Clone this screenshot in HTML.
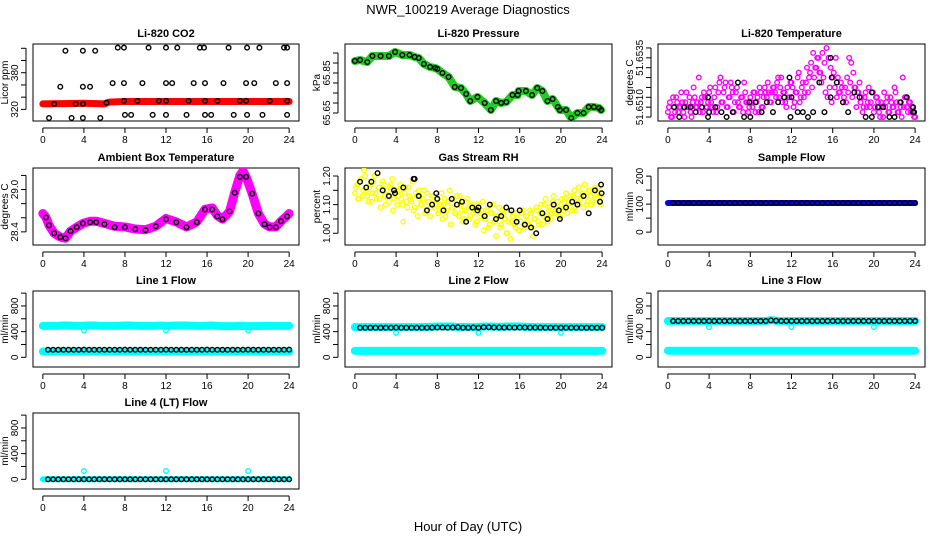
<!DOCTYPE html>
<html><head><meta charset="utf-8"><style>
html,body{margin:0;padding:0;background:#fff}
svg{display:block;font-family:"Liberation Sans",Arial,sans-serif}
</style></head><body>
<svg id="fig" width="936" height="540" viewBox="0 0 936 540">
<text x="468" y="14" text-anchor="middle" font-size="13">NWR_100219  Average Diagnostics</text>
<text x="468" y="531" text-anchor="middle" font-size="13">Hour of Day (UTC)</text>
</svg>
<script>
// ---------- data ----------
const xTicks = [0,4,8,12,16,20,24];
const halfHours = [0.5,1,1.5,2,2.5,3,3.5,4,4.5,5,5.5,6,6.5,7,7.5,8,8.5,9,9.5,10,10.5,11,11.5,12,12.5,13,13.5,14,14.5,15,15.5,16,16.5,17,17.5,18,18.5,19,19.5,20,20.5,21,21.5,22,22.5,23,23.5,24];

// CO2
const co2Hours = [2.2,3.9,5.1,7.3,7.9,10.3,12.0,13.1,15.3,15.7,18.1,19.9,21.1,23.5,23.8, 1.7,3.9,4.6,6.8,7.9,9.7,12.0,12.6,14.7,15.8,17.6,19.8,20.6,22.7,23.8, 1.1,3.2,3.9,6.2,7.9,9.2,11.3,12.0,14.2,15.8,17.0,19.2,19.8,22.1,23.8, 0.6,2.8,3.9,5.6,8.0,8.6,10.7,12.0,14.0,15.8,16.4,18.6,19.9,21.4,23.8];
const co2Values = [416,416,416,421,421,421,421,421,421,421,421,421,421,421,421, 357,357,357,363,363,363,363,363,363,363,363,363,363,363,363, 329,329,329,331,334,334,334,334,334,334,334,334,334,334,334, 306,306,306,306,311,311,311,311,311,311,311,311,311,311,311];
const co2RedHours = [0,2,4,6,6.5,8,10,12,14,16,18,20,22,24];
const co2RedValues = [329,329.5,330,329,332,333,333,333,333,333,333,333,333,333];

// Pressure
const presHours = [0,0.5,1.2,1.7,2.5,3.3,3.9,4.6,5.3,5.8,6.2,6.7,7.3,7.8,8.0,8.5,9.1,9.7,10.3,10.8,11.2,11.9,12.6,13.2,13.7,14.2,14.7,15.3,15.8,15.9,16.6,17.2,17.7,18.2,18.7,19.2,19.7,19.9,20.5,21.0,21.6,22.2,22.7,23.2,23.7,23.9];
const presValues = [65.91,65.915,65.905,65.935,65.935,65.935,65.955,65.94,65.94,65.93,65.925,65.895,65.88,65.875,65.87,65.85,65.83,65.78,65.775,65.745,65.71,65.73,65.70,65.665,65.71,65.70,65.705,65.74,65.74,65.76,65.76,65.74,65.775,65.76,65.71,65.72,65.68,65.665,65.665,65.625,65.65,65.65,65.68,65.68,65.675,65.665];

// Li-820 temperature (levels)
const tempMagA = [1,3,0,2,4,1,2,3,0,5,2,1,3,4,2,8,3,1,4,2,5, 3,1,6,2,7,3,5,7,2,4,6,1,5,3,2,4,7,3,1, 4,2,5,3,1,5,2,6,4,5,3,6,5,7,4,8,5,3,6, 4,7,2,5,8,3,6,4,7,5,9,6,8,10,12,9,13,11,14, 12,10,8,6,4,5,7,3,6,8,12,11,9,6,5,7,4,2,5,3, 2,5,1,4,3,0,2,5,3,1,4,2,6,3,1,2,8,4,2,3,1,2,0];
const tempMagB = [2,0,4,1,3,2,5,1,3,2,4,0,6,2,3,1,4,5,2,3, 6,2,4,1,5,8,3,6,2,4,7,5,3,6,2,4,1,5,3,2, 3,5,1,4,6,2,4,5,7,3,5,6,4,8,6,3,5,2,4,7, 6,3,5,9,4,7,5,10,8,11,13,10,12,9,7,8,5,4,6,3, 9,12,8,5,6,4,3,5,7,4,6,2,5,3,1,4,2,6,3,5, 2,4,1,3,0,2,4,1,3,2,5,1,3,0,2,4,1,3,2,0];
const tempBlackHours = [0.6,1.1,1.6,2.2,2.7,3.3,3.9,3.9,4.0,4.6,5.2,5.7,6.3,6.8,7.4,7.9,8.0,8.5,9.1,9.6,10.2,10.7,11.3,11.8,11.9,12.0,12.6,13.1,13.6,14.1,14.7,15.2,15.8,15.8,15.9,16.4,17.0,17.5,18.1,18.6,19.2,19.8,19.8,20.4,20.9,21.5,22.0,22.6,23.2,23.8,23.8,23.9];
const tempBlackLevels = [2,0,2,2,1,2,0,4,1,2,1,0,1,7,0,3,0,3,1,3,1,3,4,8,0,4,1,1,0,1,7,1,4,12,8,7,3,1,5,4,0,0,5,2,2,0,0,3,4,1,2,1];

// Ambient box temperature
const ambHours = [0.3,0.6,1.1,1.7,2.2,2.7,3.3,3.9,4.6,5.2,6.0,7.0,8.0,9.0,10.0,11.0,12.0,13.0,14.0,15.0,15.8,16.5,17.0,17.5,18.2,18.7,19.2,19.8,20.4,21.0,21.6,22.1,22.7,23.2,23.8];
const ambValues = [28.606,28.494,28.38,28.326,28.31,28.41,28.466,28.52,28.536,28.536,28.508,28.466,28.466,28.438,28.424,28.48,28.578,28.536,28.466,28.536,28.717,28.717,28.62,28.578,28.69,28.955,29.179,29.179,28.941,28.661,28.508,28.466,28.466,28.55,28.62];
const ambLineHours = [0,0.3,0.6,1.1,1.7,2.2,2.7,3.3,3.9,4.6,5.2,6.0,7.0,8.0,9.0,10.0,11.0,12.0,13.0,14.0,15.0,15.8,16.5,17.0,17.5,18.2,18.7,19.2,19.5,19.8,20.4,21.0,21.6,22.1,22.7,23.2,23.8,24];
const ambLineValues = [28.66,28.606,28.494,28.38,28.326,28.31,28.41,28.466,28.52,28.55,28.55,28.52,28.48,28.47,28.44,28.43,28.48,28.59,28.54,28.47,28.54,28.72,28.74,28.63,28.58,28.69,28.96,29.2,29.26,29.18,28.94,28.66,28.51,28.47,28.47,28.55,28.63,28.66];

// Gas stream RH
const rhYellowA = [1.14,1.17,1.12,1.19,1.15,1.20,1.13,1.16,1.11,1.18,1.14,1.21,1.12,1.15,1.17,1.10,1.13,1.16,1.19,1.12,1.15, 1.13,1.17,1.10,1.14,1.11,1.16,1.12,1.18,1.09,1.13,1.15,1.10,1.12,1.07,1.14,1.11,1.09,1.13,1.10, 1.12,1.08,1.14,1.10,1.06,1.11,1.15,1.09,1.12,1.07,1.10,1.13,1.08,1.05,1.11,1.09,1.06,1.10,1.08, 1.04,1.09,1.07,1.11,1.05,1.08,1.02,1.07,1.10,1.04,1.06,1.09,1.03,1.07,1.05,1.00,1.08,1.04,1.06,1.02, 1.05,1.01,1.07,1.03,1.06,1.04,1.08,1.02,1.05,1.09,1.04,1.07,1.03,1.10,1.06,1.08,1.05,1.11,1.07,1.09, 1.06,1.10,1.08,1.12,1.07,1.11,1.09,1.13,1.08,1.12,1.10,1.14,1.09,1.13,1.11,1.15,1.10,1.14,1.12,1.16,1.13];
const rhYellowB = [1.16,1.12,1.18,1.13,1.22,1.15,1.11,1.17,1.14,1.20,1.12,1.16,1.09,1.18,1.13,1.15,1.11,1.17,1.08,1.14, 1.10,1.15,1.12,1.04,1.16,1.09,1.13,1.11,1.08,1.14,1.06,1.12,1.10,1.15,1.08,1.11,1.06,1.13,1.09,1.12, 1.07,1.10,1.05,1.12,1.08,1.11,1.03,1.09,1.07,1.13,1.06,1.10,1.04,1.08,1.12,1.05,1.09,1.07,1.03,1.10, 1.06,1.08,1.01,1.05,1.09,1.03,1.07,1.04,0.99,1.06,1.02,1.08,1.05,1.00,1.04,0.98,1.06,1.03,1.07,1.01, 1.04,1.08,1.02,1.06,1.03,1.07,0.99,1.05,1.08,1.03,1.10,1.06,1.12,1.04,1.09,1.07,1.13,1.08,1.11,1.06, 1.12,1.09,1.14,1.10,1.13,1.08,1.15,1.11,1.16,1.12,1.14,1.17,1.10,1.15,1.13,1.11,1.16,1.12,1.14,1.10];
const rhBlackHours = [0.5,1.1,1.6,2.2,2.7,3.3,3.8,3.9,4.7,5.7,5.8,6.2,7.0,7.5,7.9,8.0,8.6,9.4,9.9,10.4,10.8,11.4,11.9,12.0,12.6,13.1,13.7,14.2,14.7,15.2,15.7,16.0,16.5,17.1,17.6,18.2,18.7,19.3,19.8,19.9,20.5,21.1,21.6,22.2,22.7,23.3,23.8,23.9,23.95];
const rhBlackValues = [1.18,1.16,1.18,1.21,1.15,1.13,1.15,1.14,1.16,1.19,1.19,1.13,1.08,1.10,1.14,1.12,1.08,1.12,1.10,1.11,1.04,1.09,1.08,1.09,1.06,1.10,1.05,1.06,1.09,1.08,1.04,1.08,1.03,1.02,1.00,1.07,1.05,1.10,1.08,1.05,1.09,1.11,1.10,1.13,1.07,1.15,1.11,1.17,1.14];

// Sample flow
const sampleBlue = [104,104,104,104,104,104,104,104,104,104,104,104,104,104,104,104,104,104,104,104,104,104,104,104,104,104,104,104,104,104,104,104,104,104,104,104,104,104,104,104,104,104,104,104,104,104,104,104];
const sampleBlack = [104,104,104,104,104,104,104,104,104,104,104,104,104,104,104,104,104,104,104,104,104,104,104,104,104,104,104,104,104,104,104,104,104,104,104,104,104,104,104,104,104,104,104,104,104,104,104,104];

// Line flows
const outlierHours = [4,12,20];
const line1Black = [118,118,118,118,118,118,118,120,118,118,118,118,118,118,118,120,118,118,118,118,118,118,118,120,118,118,118,118,118,118,118,120,118,118,118,118,118,118,118,120,118,118,118,118,118,118,118,120];
const line1CyanHigh = [490,490,492,495,495,492,490,492,495,495,492,490,490,490,492,495,495,492,490,490,490,492,495,490,492,495,495,495,492,490,490,492,495,490,485,485,485,488,490,485,485,488,490,490,490,490,490,490];
const line1CyanLow = [90,90,90,90,90,90,90,90,90,90,90,90,90,90,90,90,90,90,90,90,90,90,90,90,90,90,90,90,90,90,90,90,90,90,90,90,90,90,90,90,90,90,90,90,90,90,90,90];
const line1Outliers = [420,420,420];
const line2Black = [460,460,460,460,460,460,460,462,460,460,460,460,460,460,462,465,465,462,465,468,460,460,465,460,468,468,465,465,462,465,462,465,465,462,462,462,460,460,460,460,460,460,460,460,460,460,460,460];
const line2CyanHigh = [470,470,470,470,470,470,470,470,470,470,470,470,470,475,475,480,480,480,478,470,475,470,470,475,480,480,478,475,478,480,480,480,475,475,470,470,470,470,470,470,470,470,470,470,470,470,470,470];
const line2CyanLow = [100,100,100,100,100,100,100,100,100,100,100,100,100,100,100,100,100,100,100,100,100,100,100,100,100,100,100,100,100,100,100,100,100,100,100,100,100,100,100,100,100,100,100,100,100,100,100,100];
const line2Outliers = [380,380,380];
const line3Black = [565,565,565,565,565,565,565,565,565,565,565,565,565,565,565,565,565,565,565,575,570,565,565,565,565,565,565,565,565,565,565,565,565,565,565,565,565,565,565,565,565,565,565,565,565,565,565,565];
const line3CyanHigh = [565,565,565,565,565,565,565,565,565,565,565,565,565,565,565,565,565,565,565,580,570,565,565,565,565,565,565,565,565,565,565,565,565,565,565,565,565,565,565,565,565,565,565,565,565,565,565,565];
const line3CyanLow = [103,103,103,103,103,103,103,103,103,103,103,103,103,103,103,103,103,103,103,103,103,103,103,103,103,103,103,103,103,103,103,103,103,103,103,103,103,103,103,103,103,103,103,103,103,103,103,103];
const line3Outliers = [470,470,470];
const line4Black = [0,0,0,0,0,0,0,0,0,0,0,0,0,0,0,0,0,0,0,0,0,0,0,0,0,0,0,0,0,0,0,0,0,0,0,0,0,0,0,0,0,0,0,0,0,0,0,0];
const line4Cyan = [0,0,0,0,0,0,0,0,0,0,0,0,0,0,0,0,0,0,0,0,0,0,0,0,0,0,0,0,0,0,0,0,0,0,0,0,0,0,0,0,0,0,0,0,0,0,0,0];
const line4Outliers = [130,130,130];

// ---------- drawing ----------
const NS = 'http://www.w3.org/2000/svg';
const fig = document.getElementById('fig');
const colX = [[33,299],[345,612],[658,925]];
const rowY = [[44,121],[168,245],[291,367],[413,489]];
function mk(tag, attrs, parent) {
  const e = document.createElementNS(NS, tag);
  for (const k in attrs) e.setAttribute(k, attrs[k]);
  (parent || fig).appendChild(e);
  return e;
}
function makePanel(col, row, title, ylab, ymin, ymax, yTicks, yLabelVals, name) {
  const [x0, x1] = colX[col], [y0, y1] = rowY[row];
  const g = mk('g', {});
  
  
  const sx = h => x0 + (h + 0.96) / 25.92 * (x1 - x0);
  const sy = v => y1 - (v - ymin) / (ymax - ymin) * (y1 - y0);
  const clipId = 'clip-' + name;
  const cp = mk('clipPath', {id: clipId}, g);
  mk('rect', {x: x0, y: y0, width: x1 - x0, height: y1 - y0}, cp);
  const t = mk('text', {x: (x0 + x1) / 2, y: y0 - 7, 'text-anchor': 'middle', 'font-size': 11, 'font-weight': 'bold'}, g);
  t.textContent = title;
  
  
  const box = mk('rect', {x: x0, y: y0, width: x1 - x0, height: y1 - y0, fill: 'none', stroke: '#000', 'stroke-width': 1}, g);
  
  
  // x axis
  const xa = mk('g', {}, g);
  
  
  const ay = y1 + 7;
  mk('line', {x1: sx(xTicks[0]), x2: sx(xTicks[xTicks.length - 1]), y1: ay, y2: ay, stroke: '#000'}, xa);
  xTicks.forEach(v => {
    mk('line', {x1: sx(v), x2: sx(v), y1: ay, y2: ay + 5, stroke: '#000'}, xa);
    const tl = mk('text', {x: sx(v), y: ay + 15, 'text-anchor': 'middle', 'font-size': 10}, xa);
    tl.textContent = v;
  });
  // y axis
  const ya = mk('g', {}, g);
  
  
  const ax = x0 - 7;
  mk('line', {x1: ax, x2: ax, y1: sy(yTicks[0]), y2: sy(yTicks[yTicks.length - 1]), stroke: '#000'}, ya);
  yTicks.forEach(v => mk('line', {x1: ax, x2: ax - 5, y1: sy(v), y2: sy(v), stroke: '#000'}, ya));
  yLabelVals.forEach(v => {
    const tx = ax - 8, ty = sy(v);
    const tl = mk('text', {x: tx, y: ty, 'text-anchor': 'middle', 'font-size': 10, transform: `rotate(-90 ${tx} ${ty})`}, ya);
    tl.textContent = v;
  });
  const yt = mk('text', {x: x0 - 25, y: (y0 + y1) / 2, 'text-anchor': 'middle', 'font-size': 10, transform: `rotate(-90 ${x0 - 25} ${(y0 + y1) / 2})`}, g);
  yt.textContent = ylab;
  
  
  const data = mk('g', {'clip-path': `url(#${clipId})`}, g);
  
  
  return {sx, sy, data};
}
function pts(P, hours, vals, color, r, sw, nm) {
  const g = mk('g', {fill: 'none', stroke: color, 'stroke-width': sw}, P.data);
  
  
  vals.forEach((v, i) => {
    const c = mk('circle', {cx: P.sx(hours[i]).toFixed(2), cy: P.sy(v).toFixed(2), r: r}, g);
  });
}
function band(P, hours, vals, color, w, nm) {
  const d = vals.map((v, i) => (i ? 'L' : 'M') + P.sx(hours[i]).toFixed(2) + ',' + P.sy(v).toFixed(2)).join('');
  const p = mk('path', {d: d, fill: 'none', stroke: color, 'stroke-width': w, 'stroke-linecap': 'round', 'stroke-linejoin': 'round'}, P.data);
  
  
}
const idxHours = (arr, step, off) => arr.map((_, i) => off + i * step);
const withZero = [0].concat(halfHours);
const levelVal = k => 51.6505 + k * 0.00025;

// CO2
let P = makePanel(0, 0, 'Li-820 CO2', 'Licor ppm', 301, 427, [320,340,360,380,400,420], [320,380], 'co2');
band(P, co2RedHours, co2RedValues, '#ff0000', 7, 'co2-red-band');
pts(P, co2Hours, co2Values, '#000', 2.3, 1.4, 'co2-black-points');

// Pressure
P = makePanel(1, 0, 'Li-820 Pressure', 'kPa', 65.61, 65.995, [65.65,65.7,65.75,65.8,65.85,65.9,65.95], [65.65,65.85], 'pressure');
band(P, presHours, presValues, '#22cc22', 8, 'pressure-green-band');
pts(P, presHours, presValues, '#000', 2.3, 1.4, 'pressure-black-points');

// Temperature
P = makePanel(2, 0, 'Li-820 Temperature', 'degrees C', 51.6503, 51.6542, [51.6505,51.651,51.6515,51.652,51.6525,51.653,51.6535,51.654], [51.6510,51.6535], 'li820-temp');
pts(P, idxHours(tempMagA, 0.2, 0), tempMagA.map(levelVal), '#ff00ff', 2.3, 1.4, 'temp-magenta-a');
pts(P, idxHours(tempMagB, 0.2, 0.1), tempMagB.map(levelVal), '#ff00ff', 2.3, 1.4, 'temp-magenta-b');
pts(P, tempBlackHours, tempBlackLevels.map(levelVal), '#000', 2.3, 1.4, 'temp-black-points');

// Ambient
P = makePanel(0, 1, 'Ambient Box Temperature', 'degrees C', 28.214, 29.305, [28.4,28.6,28.8,29.0,29.2], [28.4,'29.0'].map(Number), 'ambient');
band(P, ambLineHours, ambLineValues, '#ff00ff', 9, 'ambient-magenta-band');
pts(P, ambHours, ambValues, '#000', 2.3, 1.4, 'ambient-black-points');
// fix "29.0" label text formatting
// RH
P = makePanel(1, 1, 'Gas Stream RH', 'percent', 0.959, 1.228, [1.0,1.05,1.1,1.15,1.2], [1.00,1.10,1.20], 'rh');
pts(P, idxHours(rhYellowA, 0.2, 0), rhYellowA, '#ffff00', 2.3, 1.4, 'rh-yellow-a');
pts(P, idxHours(rhYellowB, 0.2, 0.1), rhYellowB, '#ffff00', 2.3, 1.4, 'rh-yellow-b');
pts(P, rhBlackHours, rhBlackValues, '#000', 2.3, 1.4, 'rh-black-points');

// Sample flow
P = makePanel(2, 1, 'Sample Flow', 'ml/min', -46, 229, [0,50,100,150,200], [0,100,200], 'sample-flow');
band(P, withZero, [104].concat(sampleBlue), '#0000ff', 6, 'sample-blue-band');
pts(P, halfHours, sampleBlack, '#000', 2.3, 1.4, 'sample-black-points');

const flowTicks = [0,200,400,600,800,1000], flowLabels = [0,400,800];
// Line 1
P = makePanel(0, 2, 'Line 1 Flow', 'ml/min', -151, 1033, flowTicks, flowLabels, 'line1');
band(P, withZero, [490].concat(line1CyanHigh), '#00ffff', 8, 'line1-cyan-high');
band(P, withZero, [90].concat(line1CyanLow), '#00ffff', 8, 'line1-cyan-low');
pts(P, outlierHours, line1Outliers, '#00ffff', 2.3, 1.4, 'line1-outliers');
pts(P, halfHours, line1Black, '#000', 2.3, 1.4, 'line1-black-points');
// Line 2
P = makePanel(1, 2, 'Line 2 Flow', 'ml/min', -151, 1033, flowTicks, flowLabels, 'line2');
band(P, withZero, [470].concat(line2CyanHigh), '#00ffff', 8, 'line2-cyan-high');
band(P, withZero, [100].concat(line2CyanLow), '#00ffff', 8, 'line2-cyan-low');
pts(P, outlierHours, line2Outliers, '#00ffff', 2.3, 1.4, 'line2-outliers');
pts(P, halfHours, line2Black, '#000', 2.3, 1.4, 'line2-black-points');
// Line 3
P = makePanel(2, 2, 'Line 3 Flow', 'ml/min', -151, 1033, flowTicks, flowLabels, 'line3');
band(P, withZero, [565].concat(line3CyanHigh), '#00ffff', 8, 'line3-cyan-high');
band(P, withZero, [103].concat(line3CyanLow), '#00ffff', 8, 'line3-cyan-low');
pts(P, outlierHours, line3Outliers, '#00ffff', 2.3, 1.4, 'line3-outliers');
pts(P, halfHours, line3Black, '#000', 2.3, 1.4, 'line3-black-points');
// Line 4
P = makePanel(0, 3, 'Line 4 (LT) Flow', 'ml/min', -151, 1033, flowTicks, flowLabels, 'line4');
band(P, withZero, [0].concat(line4Cyan), '#00ffff', 6, 'line4-cyan');
pts(P, outlierHours, line4Outliers, '#00ffff', 2.3, 1.4, 'line4-outliers');
pts(P, halfHours, line4Black, '#000', 2.3, 1.4, 'line4-black-points');

// format decimal tick labels like R
document.querySelectorAll('text').forEach(t => {
  if (t.textContent === '29') t.textContent = '29.0';
  if (t.textContent === '1') t.textContent = '1.00';
  if (t.textContent === '1.1') t.textContent = '1.10';
  if (t.textContent === '1.2') t.textContent = '1.20';
  if (t.textContent === '51.651') t.textContent = '51.6510';
});
</script>
</body></html>
